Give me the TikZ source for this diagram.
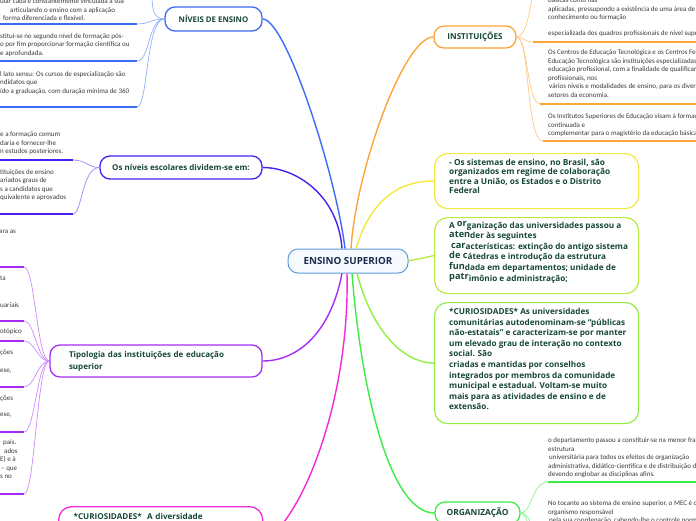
\documentclass[tikz,border=0pt]{standalone}
\usepackage{fontspec}
\setmainfont{Carlito}
\newfontfamily\boxfont{Open Sans}
\definecolor{cBlue}{HTML}{3D6BF5}
\definecolor{cViolet}{HTML}{4B1FF2}
\definecolor{cPurple}{HTML}{A62CF5}
\definecolor{cMagenta}{HTML}{F22AD9}
\definecolor{cOrange}{HTML}{FBA53A}
\definecolor{cYellow}{HTML}{F3E840}
\definecolor{cLime}{HTML}{B8EA40}
\definecolor{cLGreen}{HTML}{94EC46}
\definecolor{cGreen}{HTML}{3DEB45}
\definecolor{cCenter}{HTML}{5C9BD6}
\definecolor{cCenterFill}{HTML}{F6FAFE}
\definecolor{cText}{HTML}{16473B}
\definecolor{cNavy}{HTML}{1A2B4C}
\definecolor{cLeaf}{HTML}{3A3A3A}
\newcommand\fragm[1]{\raisebox{1.2pt}{\fontsize{9.2}{10}\selectfont #1}}
\begin{document}
\begin{tikzpicture}[x=1pt,y=-1pt,
  box/.style={draw, line width=1.3pt, rounded corners=10pt, fill=white, text=cText,
    font=\boxfont\fontsize{7.8}{9}\selectfont\bfseries, inner sep=0pt},
  bigbox/.style={draw, line width=1.2pt, rounded corners=13pt, fill=white, anchor=north west,
    inner sep=0pt, minimum width=204pt},
  boxtext/.style={anchor=north west, inner sep=0pt, align=left, text=cText},
  leaf/.style={anchor=north west, inner sep=0pt, align=left, text=cLeaf,
    font=\fontsize{7}{8.6}\selectfont},
  branch/.style={line width=1.4pt},
  twig/.style={line width=0.7pt},
  uline/.style={line width=1.8pt}
]
\useasboundingbox (0,0) rectangle (696,520);
\clip (0,0) rectangle (696,520);

% ---------- main nodes ----------
\node[box, draw=cCenter, fill=cCenterFill, line width=1pt, minimum width=120pt, minimum height=24pt,
      text=cNavy, font=\boxfont\fontsize{9.8}{11}\selectfont\bfseries] (center) at (348,261) {ENSINO SUPERIOR};

\node[box, draw=cBlue, minimum width=97pt, minimum height=24pt] (niveis) at (213.5,19) {NÍVEIS DE ENSINO};
\node[box, draw=cViolet, minimum width=162pt, minimum height=23pt,
      font=\boxfont\fontsize{8}{10}\selectfont\bfseries] (osniv) at (181,167.5) {Os níveis escolares dividem-se em:};
\node[box, draw=cPurple, text width=174pt, inner xsep=19pt, minimum height=32pt, align=left,
      font=\boxfont\fontsize{8}{12}\selectfont\bfseries] (tipo) at (156,361)
      {Tipologia das instituições de educação\\superior};
\node[box, draw=cMagenta, anchor=north west, rounded corners=13pt, text width=174pt, inner xsep=15pt,
      inner ysep=7pt, text depth=50pt, align=left, font=\boxfont\fontsize{8.1}{10}\selectfont\bfseries]
      (curio2) at (58,506) {*CURIOSIDADES*\ \ A diversidade};

\node[box, draw=cOrange, minimum width=82pt, minimum height=22pt,
      font=\boxfont\fontsize{8.1}{10}\selectfont\bfseries] (inst) at (475,37) {INSTITUIÇÕES};
\node[box, draw=cGreen, minimum width=85pt, minimum height=22pt,
      font=\boxfont\fontsize{8.4}{10}\selectfont\bfseries] (org) at (477.5,513) {ORGANIZAÇÃO};

\node[bigbox, draw=cYellow, minimum height=55pt] (yel) at (434,153) {};
\node[boxtext, font=\boxfont\fontsize{8.3}{9.6}\selectfont\bfseries] (yelT) at (449,158.5)
  {- Os sistemas de ensino, no Brasil, são\\organizados em regime de colaboração\\entre a União, os Estados e o Distrito\\Federal};

\node[bigbox, draw=cLime, minimum height=76pt] (lime) at (434,217) {};
\node[boxtext, font=\boxfont\fontsize{8.2}{10.6}\selectfont\bfseries] (limeT) at (449,221.5)
  {A \fragm{or}ganização das universidades passou a\\
   \fragm{aten}der às seguintes\\
   \hspace*{2pt}\fragm{car}acterísticas: extinção do antigo sistema\\
   \fragm{de c}átedras e introdução da estrutura\\
   \fragm{fun}dada em departamentos; unidade de\\
   \fragm{patr}imônio e administração;};

\node[bigbox, draw=cLGreen, minimum height=121pt] (lgr) at (434,302) {};
\node[boxtext, font=\boxfont\fontsize{8.2}{10.6}\selectfont\bfseries] (lgrT) at (449,308)
  {*CURIOSIDADES* As universidades\\comunitárias autodenominam-se “públicas\\não-estatais” e caracterizam-se por manter\\um elevado grau de interação no contexto\\social. São\\criadas e mantidas por conselhos\\integrados por membros da comunidade\\municipal e estadual. Voltam-se muito\\mais para as atividades de ensino e de\\extensão.};

% ---------- main branches ----------
\coordinate (magEnd) at (curio2.east);
\draw[branch, cBlue] ([xshift=-3pt]center.north) .. controls (336,175) and (286,19) .. (niveis.east);
\draw[branch, cViolet] ([xshift=-6pt]center.north) .. controls (338,195) and (296,167.5) .. (osniv.east);
\draw[branch, cOrange] ([xshift=3pt]center.north) .. controls (356,170) and (404,37) .. (inst.west);
\draw[branch, cYellow] ([xshift=8pt]center.north) .. controls (372,195) and (404,180.5) .. (yel.west);
\draw[branch, cLime] (center.east) -- (lime.west);
\draw[branch, cLGreen] ([xshift=9pt]center.south) .. controls (372,330) and (402,362.5) .. (lgr.west);
\draw[branch, cGreen] ([xshift=4pt]center.south) .. controls (362,400) and (392,513) .. (org.west);
\draw[branch, cPurple] ([xshift=-6pt]center.south) .. controls (330,335) and (296,361) .. (tipo.east);
\draw[branch, cMagenta] ([xshift=-1pt]center.south) .. controls (350,400) and (302,520) .. (magEnd);

% ---------- NÍVEIS DE ENSINO children ----------
\coordinate (nu1) at (137,24); \coordinate (nu2) at (137,61);
\coordinate (nu3) at (137,107); \coordinate (nup) at (152,-8);
\draw[twig, cBlue!55] (niveis.west) .. controls (150,19) and (150,24) .. (nu1);
\draw[twig, cBlue!55] (niveis.west) .. controls (148,19) and (150,61) .. (nu2);
\draw[twig, cBlue!55] (niveis.west) .. controls (146,19) and (148,107) .. (nu3);
\draw[twig, cBlue!55] (niveis.west) .. controls (152,19) and (152,6) .. (nup);
\draw[uline, cBlue] (0,24) -- (nu1);
\draw[uline, cBlue] (0,61) -- (nu2);
\draw[uline, cBlue] (0,107) -- (nu3);
\node[leaf] (n1) at (0,-1.5) {ular cada e constantemente vinculada à sua\\\hspace*{10pt}articulando o ensino com a aplicação\\\hspace*{3pt}forma diferenciada e flexível.};
\node[leaf] (n2) at (0,33) {stitui-se no segundo nível de formação pós-\\o por fim proporcionar formação científica ou\\e aprofundada.};
\node[leaf] (n3) at (0,71) {l lato sensu: Os cursos de especialização são\\ndidatos que\\ído a graduação, com duração mínima de 360};

% ---------- Os níveis children ----------
\coordinate (ou1) at (73,160); \coordinate (ou2) at (73,214);
\draw[twig, cViolet!55] (osniv.west) .. controls (88,167.5) and (86,160) .. (ou1);
\draw[twig, cViolet!55] (osniv.west) .. controls (82,167.5) and (82,214) .. (ou2);
\draw[uline, cViolet] (0,160) -- (ou1);
\draw[uline, cViolet] (0,214) -- (ou2);
\node[leaf] (o1) at (0,131.5) {e a formação comum\\daria e fornecer-lhe\\n estudos posteriores.};
\node[leaf] (o2) at (0,169) {tituições de ensino\\ariados graus de\\s a candidatos que\\quivalente e aprovados};
\node[leaf] (o3) at (-1,229.5) {ara as};

% ---------- Tipologia children ----------
\foreach \yy [count=\i] in {267,321,341,387,432,494} {
  \coordinate (tu\i) at (24,\yy);
  \draw[twig, cPurple!55] (tipo.west) .. controls (37,361) and (35,\yy) .. (tu\i);
  \draw[uline, cPurple] (0,\yy) -- (tu\i);
}
\node[leaf] (t1) at (0,275.5) {ta};
\node[leaf] (t2) at (0,302.5) {uariais};
\node[leaf] (t3) at (0,328.5) {otópico};
\node[leaf] (t4) at (0,349.5) {ções};
\node[leaf] (t5) at (0,368.5) {ese,};
\node[leaf] (t6) at (0,395.5) {ções};
\node[leaf] (t7) at (0,412.5) {ese,};
\node[leaf] (t8) at (0,439.5) {\hspace*{3pt}país.\\\hspace*{4pt}ados\\E) e à\\\hspace*{1pt}– que\\s no};

% ---------- INSTITUIÇÕES children ----------
\coordinate (iu1) at (533,42); \coordinate (iu2) at (540,104);
\coordinate (iu3) at (543,141); \coordinate (iup) at (533,-8);
\draw[twig, cOrange!60] (inst.east) .. controls (525,37) and (524,42) .. (iu1);
\draw[twig, cOrange!60] (inst.east) .. controls (528,37) and (527,104) .. (iu2);
\draw[twig, cOrange!60] (inst.east) .. controls (530,37) and (526,141) .. (iu3);
\draw[twig, cOrange!60] (inst.east) .. controls (526,37) and (530,10) .. (iup);
\draw[uline, cOrange] (iu1) -- (696,42);
\draw[uline, cOrange] (iu2) -- (696,104);
\draw[uline, cOrange] (iu3) -- (696,141);
\node[leaf] (i1) at (548,-2.5) {básicas como nas\\aplicadas, pressupondo a existência de uma área de\\conhecimento ou formação};
\node[leaf] (i1b) at (548,30.5) {especializada dos quadros profissionais de nível superior};
\node[leaf] (i2) at (548,49.5) {Os Centros de Educação Tecnológica e os Centros Federais\\Educação Tecnológica são instituições especializadas\\educação profissional, com a finalidade de qualificar\\profissionais, nos\\\hspace*{1pt}vários níveis e modalidades de ensino, para os diversos\\setores da economia.};
\node[leaf] (i3) at (548,113.5) {Os Institutos Superiores de Educação visam à formação\\continuada e\\complementar para o magistério da educação básica};

% ---------- ORGANIZAÇÃO children ----------
\coordinate (gu1) at (548,482); \coordinate (gd1) at (540,530);
\coordinate (gd2) at (546,538);
\draw[twig, cGreen!60] (org.east) .. controls (532,513) and (532,482) .. (gu1);
\draw[twig, cGreen!60] (org.east) .. controls (530,513) and (530,530) .. (gd1);
\draw[twig, cGreen!60] (org.east) .. controls (528,513) and (528,538) .. (gd2);
\draw[uline, cGreen] (gu1) -- (696,482);
\node[leaf] (g1) at (548,437.5) {o departamento passou a constituir-se na menor fração\\estrutura\\\hspace*{1pt}universitária para todos os efeitos de organização\\administrativa, didático-científica e de distribuição de\\devendo englobar as disciplinas afins.};
\node[leaf] (g2) at (548,500.5) {No tocante ao sistema de ensino superior, o MEC é o\\organismo responsável\\\hspace*{1pt}pela sua coordenação, cabendo-lhe o controle normativo\\sistema, o financiamento das instituições de ensino};
\end{tikzpicture}
\end{document}
